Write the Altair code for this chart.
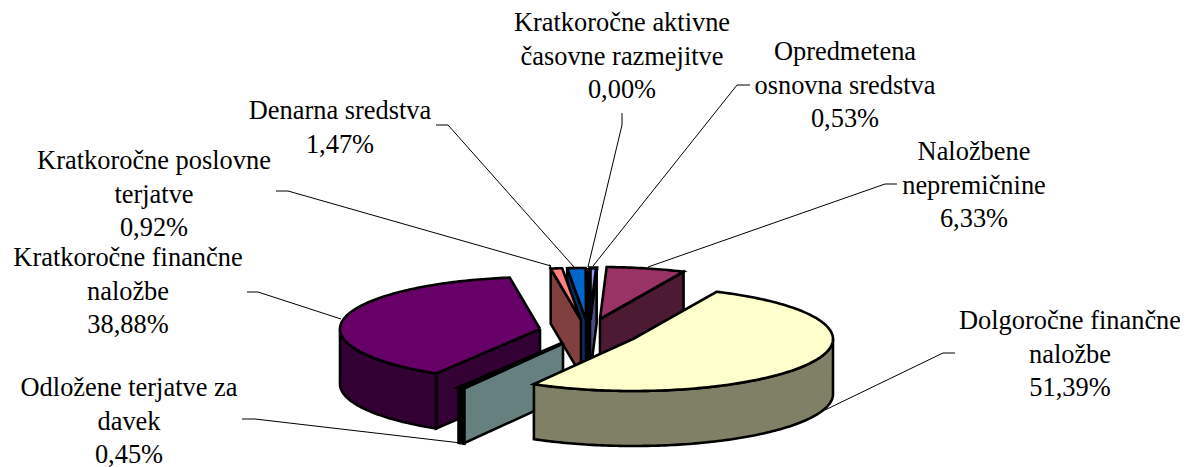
import math
import altair as alt
import pandas as pd

# --- chart values -----------------------------------------------------------
categories = ["Opredmetena osnovna sredstva", "Naložbene nepremičnine",
              "Dolgoročne finančne naložbe", "Odložene terjatve za davek",
              "Kratkoročne finančne naložbe", "Kratkoročne poslovne terjatve",
              "Denarna sredstva", "Kratkoročne aktivne časovne razmejitve"]
shares = [0.53, 6.33, 51.39, 0.45, 38.88, 0.92, 1.47, 0.00]
top_colors = ["#9999FF", "#993366", "#FFFFCC", "#CCFFFF", "#660066", "#FF8080", "#0066CC", "#CCCCFF"]
side_colors = ["#4D4D80", "#4D1A33", "#808066", "#668080", "#330033", "#804040", "#003366", "#666680"]
label_texts = [
    "Opredmetena\nosnovna sredstva\n0,53%", "Naložbene\nnepremičnine\n6,33%",
    "Dolgoročne finančne\nnaložbe\n51,39%", "Odložene terjatve za\ndavek\n0,45%",
    "Kratkoročne finančne\nnaložbe\n38,88%", "Kratkoročne poslovne\nterjatve\n0,92%",
    "Denarna sredstva\n1,47%", "Kratkoročne aktivne\nčasovne razmejitve\n0,00%"]

# --- layout (separate from the values) --------------------------------------
apexes = [(590, 320), (600, 319), (633, 339), (563, 343), (540, 329), (581, 320), (586, 320), (588, 320)]
label_pos = [(845, 52), (974, 152), (1070, 321), (129, 388), (128, 258), (154, 161), (340, 111), (622, 23)]
leaders = [
    [(750, 85), (737, 85), (593, 266)], [(897, 184), (885, 184), (648, 267)],
    [(955, 353), (943, 353), (825, 410)], [(242, 419), (255, 419), (461, 443)],
    [(247, 292), (258, 292), (341, 319)], [(276, 191), (288, 191), (551, 266)],
    [(436, 125), (448, 125), (574, 267)], [(622, 113), (622, 125), (588, 267)]]
RX, RY, DEPTH = 200, 52, 55
paint_order = [7, 6, 5, 0, 1, 4, 3, 2]
NORMAL_STROKE, THIN_STROKE = 2.6, 3.6

# --- polygons derived from the shares ---------------------------------------
def pt(apex, deg, drop=0):
    t = math.radians(deg)
    return (apex[0] + RX * math.sin(t), apex[1] - RY * math.cos(t) + drop)

bounds = []
run = 0.0
for s in shares:
    bounds.append((run * 3.6, (run + s) * 3.6))
    run += s

polys = []
def add(points, color, sw):
    polys.append((points + [points[0]], color, sw))

for idx in paint_order:
    a, b = bounds[idx]
    c = apexes[idx]
    side, top = side_colors[idx], top_colors[idx]
    thin = (b - a) < 3
    if math.sin(math.radians(a)) < 0:
        p = pt(c, a)
        add([c, p, (p[0], p[1] + DEPTH), (c[0], c[1] + DEPTH)], side, NORMAL_STROKE)
    if math.sin(math.radians(b)) > 0:
        p = pt(c, b)
        add([c, p, (p[0], p[1] + DEPTH), (c[0], c[1] + DEPTH)], side, NORMAL_STROKE)
    lo, hi = max(a, 90), min(b, 270)
    if hi > lo:
        n = max(2, int(hi - lo) + 1)
        arc = [lo + (hi - lo) * k / n for k in range(n + 1)]
        # a wall this narrow is all outline in the reference
        add([pt(c, d) for d in arc] + [pt(c, d, DEPTH) for d in reversed(arc)],
            "#000000" if thin else side, THIN_STROKE if thin else NORMAL_STROKE)
    n = max(2, int(b - a) + 1)
    add([c] + [pt(c, a + (b - a) * k / n) for k in range(n + 1)], top,
        THIN_STROKE if thin else NORMAL_STROKE)

rows = []
for pid, (points, color, sw) in enumerate(polys):
    for i, (x, y) in enumerate(points):
        rows.append({"pid": pid, "i": i, "x": x, "y": y, "c": f"{pid:03d}{color}", "sw": sw})
poly_df = pd.DataFrame(rows)
color_domain = sorted(poly_df["c"].unique())
color_range = [v[3:] for v in color_domain]

lead_rows = []
for k, line in enumerate(leaders):
    for i, (x, y) in enumerate(line):
        lead_rows.append({"k": k, "i": i, "x": x, "y": y})
lead_df = pd.DataFrame(lead_rows)

label_df = pd.DataFrame({"t": label_texts, "x": [p[0] for p in label_pos], "y": [p[1] for p in label_pos]})

W, H = 1172, 459
xs = alt.Scale(domain=[8, 8 + W], nice=False, zero=False)
ys = alt.Scale(domain=[8 + H, 8], nice=False, zero=False)
X = alt.X("x:Q", scale=xs, axis=None)
Y = alt.Y("y:Q", scale=ys, axis=None)

leader_layer = alt.Chart(lead_df).mark_line(color="black", strokeWidth=1).encode(
    x=X, y=Y, detail="k:N", order="i:Q")
poly_layer = alt.Chart(poly_df).mark_line(stroke="black", strokeJoin="miter").encode(
    x=X, y=Y, detail="pid:N", order="i:Q",
    strokeWidth=alt.StrokeWidth("sw:Q", scale=None),
    fill=alt.Fill("c:N", scale=alt.Scale(domain=color_domain, range=color_range), legend=None))
text_layer = alt.Chart(label_df).mark_text(
    font="Liberation Serif", fontSize=26.4, lineBreak="\n", lineHeight=33.5, align="center",
    baseline="middle", color="black").encode(x=X, y=Y, text="t:N")

chart = alt.layer(leader_layer, poly_layer, text_layer).properties(
    width=W, height=H, padding=0, autosize=alt.AutoSizeParams(type="none"),
    background="white").configure_view(stroke=None)
chart.save("out.html", embed_options={"renderer": "svg", "actions": False})
